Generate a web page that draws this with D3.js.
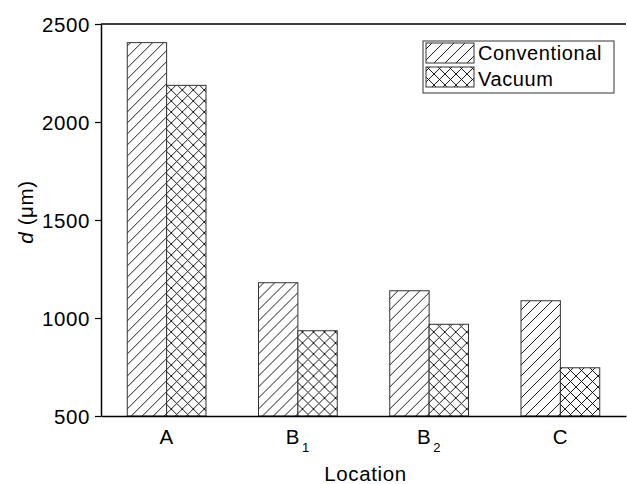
<!DOCTYPE html>
<html>
<head>
<meta charset="utf-8">
<script src="https://cdn.jsdelivr.net/npm/d3@7"></script>
<style>
  body { margin: 0; background: #fff; }
  text { font-family: "Liberation Sans", Arial, sans-serif; letter-spacing: 0.6px; }
</style>
</head>
<body>
<svg id="chart" width="627" height="484"></svg>
<script>
// Values
var categories = ["A", "B1", "B2", "C"];
var seriesNames = ["Conventional", "Vacuum"];
var conventional = [2405, 1180, 1139, 1088];
var vacuum = [2187, 935, 968, 746];
var yTicks = [500, 1000, 1500, 2000, 2500];

var svg = d3.select("#chart"),
  margin = {top: 24, right: 1, bottom: 68, left: 101},
  width = svg.attr("width") - margin.left - margin.right,
  height = svg.attr("height") - margin.top - margin.bottom;

var defs = svg.append("defs");
// single diagonal hatch for conventional
var p1 = defs.append("pattern")
  .attr("id", "hatch").attr("patternUnits", "userSpaceOnUse")
  .attr("width", 11).attr("height", 11);
p1.append("rect").attr("width", 11).attr("height", 11).attr("fill", "#fff");
p1.append("path")
  .attr("d", "M0,11 L11,0 M-2,2 L2,-2 M9,13 L13,9")
  .attr("stroke", "#000").attr("stroke-width", 0.9);
// cross hatch for vacuum
var p2 = defs.append("pattern")
  .attr("id", "cross").attr("patternUnits", "userSpaceOnUse")
  .attr("width", 11).attr("height", 11);
p2.append("rect").attr("width", 11).attr("height", 11).attr("fill", "#fff");
p2.append("path")
  .attr("d", "M0,11 L11,0 M-2,2 L2,-2 M9,13 L13,9 M0,0 L11,11 M-2,9 L2,13 M9,-2 L13,2")
  .attr("stroke", "#000").attr("stroke-width", 0.9);
var fills = ["url(#hatch)", "url(#cross)"];

var x0 = d3.scaleBand().domain(categories).range([0, width])
  .paddingInner(0.4).paddingOuter(0.2);
var x1 = d3.scaleBand().domain(seriesNames).range([0, x0.bandwidth()]);
var y = d3.scaleLinear().domain([500, 2500]).range([height, 0]);

var g = svg.append("g")
  .attr("transform", "translate(" + margin.left + "," + margin.top + ")");

var rows = categories.map(function(c, i) {
  return {cat: c, values: [conventional[i], vacuum[i]]};
});

var groups = g.selectAll(".grp").data(rows).enter().append("g")
  .attr("transform", function(d) { return "translate(" + x0(d.cat) + ",0)"; });

groups.selectAll("rect")
  .data(function(d) { return d.values.map(function(v, j) { return {name: seriesNames[j], v: v, j: j}; }); })
  .enter().append("rect")
  .attr("x", function(d) { return x1(d.name); })
  .attr("y", function(d) { return y(d.v); })
  .attr("width", x1.bandwidth())
  .attr("height", function(d) { return height - y(d.v); })
  .attr("fill", function(d) { return fills[d.j]; })
  .attr("stroke", "#333")
  .attr("stroke-width", 1);

// Y axis
var yAxis = g.append("g")
  .call(d3.axisLeft(y).tickValues(yTicks).tickFormat(d3.format("d"))
    .tickSize(6).tickSizeOuter(0).tickPadding(5));
yAxis.select(".domain").attr("stroke-width", 1.5);
yAxis.selectAll(".tick line").attr("stroke-width", 1.2);
yAxis.selectAll(".tick text").attr("font-size", 20.5).attr("fill", "#000")
  .attr("dy", "0.36em");

// X axis (no ticks)
var xAxis = g.append("g")
  .attr("transform", "translate(0," + height + ")")
  .call(d3.axisBottom(x0).tickSize(0).tickSizeOuter(0).tickFormat(""));
xAxis.select(".domain").attr("stroke-width", 1.5);
xAxis.selectAll(".tick text").remove();
xAxis.selectAll(".tick").append("text")
  .attr("y", 28)
  .attr("text-anchor", "middle")
  .attr("font-size", 20.5)
  .attr("fill", "#000")
  .each(function(d) {
    var t = d3.select(this);
    t.append("tspan").text(d.charAt(0));
    if (d.length > 1) {
      t.append("tspan").attr("font-size", 13).attr("dx", 2).attr("dy", 8).text(d.slice(1));
    }
  });

// top frame line
g.append("line")
  .attr("x1", 0).attr("x2", width)
  .attr("y1", 0).attr("y2", 0)
  .attr("stroke", "#000").attr("stroke-width", 1.5);

// axis titles
g.append("text")
  .attr("x", width / 2 + 2)
  .attr("y", height + 65)
  .attr("text-anchor", "middle")
  .attr("font-size", 20.5)
  .text("Location");

var yl = svg.append("text")
  .attr("transform", "translate(33,212) rotate(-90)")
  .attr("text-anchor", "middle")
  .attr("font-size", 20.5);
yl.append("tspan").attr("font-style", "italic").text("d");
yl.append("tspan").text(" (\u03bcm)");

// legend
var lg = svg.append("g").attr("transform", "translate(423,41)");
lg.append("rect").attr("width", 191).attr("height", 52)
  .attr("fill", "#fff").attr("stroke", "#333").attr("stroke-width", 1);
seriesNames.forEach(function(n, i) {
  lg.append("rect")
    .attr("x", 3).attr("y", 2 + i * 24)
    .attr("width", 48).attr("height", 20)
    .attr("fill", fills[i]).attr("stroke", "#333").attr("stroke-width", 1);
  lg.append("text")
    .attr("x", 55).attr("y", 19 + i * 26)
    .attr("font-size", 20)
    .text(n);
});
</script>
</body>
</html>
